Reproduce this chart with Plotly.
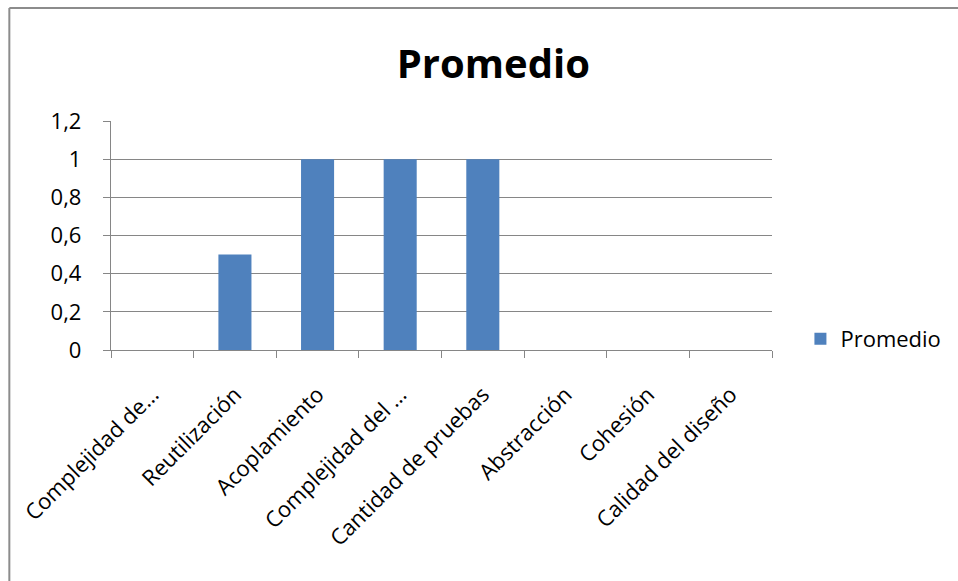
import plotly.graph_objects as go

categories = [
    "Complejidad de…",
    "Reutilización",
    "Acoplamiento",
    "Complejidad del …",
    "Cantidad de pruebas",
    "Abstracción",
    "Cohesión",
    "Calidad del diseño",
]
promedio = [0, 0.5, 1, 1, 1, 0, 0, 0]
y_ticks = [0, 0.2, 0.4, 0.6, 0.8, 1, 1.2]
y_tick_labels = ["0", "0,2", "0,4", "0,6", "0,8", "1", "1,2"]

FONT = "Open Sans"
GRID = "#868686"
FRAME = "#8C8C8C"
PAD = "\u00a0\u00a0\u00a0"  # gap between value labels and the axis

fig = go.Figure(
    go.Bar(
        x=categories,
        y=promedio,
        name="Promedio",
        marker=dict(color="#4F81BD", line=dict(width=0)),
        showlegend=True,
    )
)

fig.update_layout(
    width=958,
    height=581,
    paper_bgcolor="white",
    plot_bgcolor="white",
    separators=",.",
    margin=dict(l=111, r=184, t=121, b=231),
    bargap=0.6,
    font=dict(family=FONT, size=21, color="#000000"),
    title=dict(
        text="<b>Promedio</b>",
        font=dict(family=FONT, size=40, color="#000000"),
        x=0.515,
        xanchor="center",
        y=0.89,
        yanchor="middle",
    ),
    legend=dict(
        x=1.043,
        xanchor="left",
        y=0.048,
        yanchor="middle",
        font=dict(family=FONT, size=22, color="#000000"),
        bgcolor="rgba(0,0,0,0)",
    ),
    xaxis=dict(
        type="category",
        tickangle=-45,
        tickson="boundaries",
        ticks="outside",
        ticklen=7,
        tickcolor=GRID,
        showline=True,
        linecolor=GRID,
        linewidth=1,
        showgrid=False,
        ticklabelstandoff=22,
        tickfont=dict(family=FONT, size=22, color="#000000"),
    ),
    yaxis=dict(
        range=[0, 1.2],
        tickvals=y_ticks,
        ticktext=[t + PAD for t in y_tick_labels],
        ticks="outside",
        ticklen=7,
        tickcolor=GRID,
        showline=True,
        linecolor=GRID,
        linewidth=1,
        showgrid=True,
        gridcolor=GRID,
        gridwidth=1,
        zeroline=False,
        tickfont=dict(family=FONT, size=22, color="#000000"),
    ),
    shapes=[
        # chart frame (top and left edges)
        dict(type="line", xref="paper", yref="paper",
             x0=-0.1538, x1=1.3, y0=1.4934, y1=1.4934,
             line=dict(color=FRAME, width=2)),
        dict(type="line", xref="paper", yref="paper",
             x0=-0.1538, x1=-0.1538, y0=1.4934, y1=-1.1,
             line=dict(color=FRAME, width=2)),
    ],
)

fig.write_html("out.html")
